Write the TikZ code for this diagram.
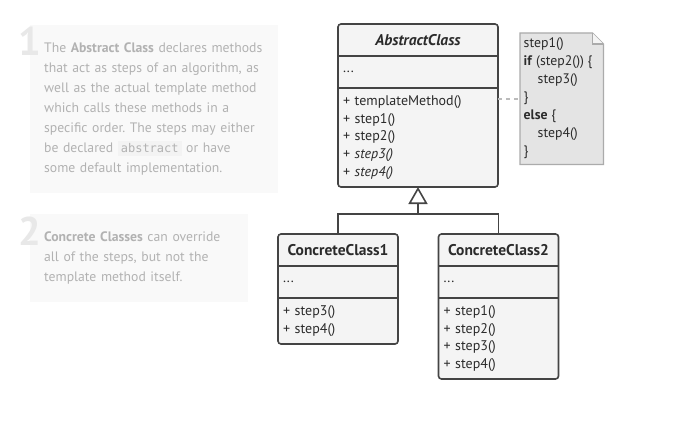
\documentclass[tikz,border=0pt]{standalone}
\usepackage{fontspec}
\setmainfont{PT Sans}
\setmonofont{DejaVu Sans Mono}
\usepackage{xcolor}
\usetikzlibrary{positioning,arrows.meta}
\frenchspacing

\definecolor{linedark}{HTML}{444444}
\definecolor{textdark}{HTML}{2B2B2B}
\definecolor{boxfill}{HTML}{F4F4F4}
\definecolor{notefill}{HTML}{E4E4E4}
\definecolor{noteline}{HTML}{ABABAB}
\definecolor{linkgray}{HTML}{BBBBBB}
\definecolor{panelfill}{HTML}{F9F9F9}
\definecolor{paneltext}{HTML}{B2B2B2}
\definecolor{numgray}{HTML}{E8E8E8}
\definecolor{codefill}{HTML}{F3F3F3}

\tikzset{
  namepart/.style={fill=boxfill, minimum width=#1, minimum height=32pt, inner sep=0pt, outer sep=0pt,
    font=\fontsize{15.5}{18}\selectfont\bfseries, text=textdark},
  listpart/.style={fill=boxfill, text width=#1, inner xsep=5pt, inner ysep=0pt, outer sep=0pt,
    minimum height=32pt, align=left, font=\fontsize{14}{17.8}\selectfont, text=textdark},
  classframe/.style={draw=linedark, line width=1.6pt, rounded corners=3pt},
  divider/.style={draw=linedark, line width=1.6pt},
  generalize/.style={draw=linedark, line width=1.6pt},
  notelink/.style={draw=linkgray, line width=1.4pt, dash pattern=on 4pt off 4pt},
  notebox/.style={fill=notefill, draw=noteline, line width=1.2pt, line join=miter},
  panel/.style={fill=panelfill, anchor=north west, inner xsep=14pt, inner ysep=0pt, align=left,
    font=\fontsize{13.7}{20}\selectfont, text=paneltext},
  bignum/.style={font=\fontsize{40}{40}\selectfont\bfseries, text=numgray, inner sep=0pt},
}
\newcommand{\codeword}[1]{\colorbox{codefill}{\fontsize{12}{12}\selectfont\ttfamily #1}}

\begin{document}
\begin{tikzpicture}[x=1pt, y=-1pt]
  \useasboundingbox[fill=white] (0,0) rectangle (698,428);

  % Explanation panels
  \node[panel, text width=220pt, minimum height=168pt] (panel1) at (30,25)
    {The \textbf{Abstract Class} declares methods\\
     that act as steps of an algorithm, as\\
     well as the actual template method\\
     which calls these methods in a\\
     specific order. The steps may either\\
     be declared \codeword{abstract} or have\\
     some default implementation.};
  \node[bignum] (num1) at (30,41) {1};

  \node[panel, text width=190pt, minimum height=88pt] (panel2) at (30,214)
    {\textbf{Concrete Classes} can override\\
     all of the steps, but not the\\
     template method itself.};
  \node[bignum] (num2) at (30,231) {2};

  % AbstractClass
  \node[namepart=160pt, anchor=north, font=\fontsize{15.5}{18}\selectfont\bfseries\itshape] (ab-name) at (418,24) {AbstractClass};
  \node[listpart=150pt, below=0pt of ab-name] (ab-attr) {...};
  \node[listpart=150pt, below=0pt of ab-attr, minimum height=99pt] (ab-ops)
    {+ templateMethod()\\ + step1()\\ + step2()\\ + \textit{step3()}\\ + \textit{step4()}};
  \draw[classframe] (ab-name.north west) rectangle (ab-ops.south east);
  \draw[divider] (ab-name.south west) -- (ab-name.south east);
  \draw[divider] (ab-attr.south west) -- (ab-attr.south east);

  % ConcreteClass1
  \node[namepart=120pt, anchor=north] (cc1-name) at (338,234) {ConcreteClass1};
  \node[listpart=110pt, below=0pt of cc1-name] (cc1-attr) {...};
  \node[listpart=110pt, below=0pt of cc1-attr, minimum height=46pt] (cc1-ops)
    {+ step3()\\ + step4()};
  \draw[classframe] (cc1-name.north west) rectangle (cc1-ops.south east);
  \draw[divider] (cc1-name.south west) -- (cc1-name.south east);
  \draw[divider] (cc1-attr.south west) -- (cc1-attr.south east);

  % ConcreteClass2
  \node[namepart=120pt, anchor=north] (cc2-name) at (498.5,234) {ConcreteClass2};
  \node[listpart=110pt, below=0pt of cc2-name] (cc2-attr) {...};
  \node[listpart=110pt, below=0pt of cc2-attr, minimum height=81pt] (cc2-ops)
    {+ step1()\\ + step2()\\ + step3()\\ + step4()};
  \draw[classframe] (cc2-name.north west) rectangle (cc2-ops.south east);
  \draw[divider] (cc2-name.south west) -- (cc2-name.south east);
  \draw[divider] (cc2-attr.south west) -- (cc2-attr.south east);

  % Inheritance
  \coordinate (join) at (418,214);
  \draw[generalize] (cc1-name.north) |- (join) -| (cc2-name.north);
  \draw[generalize, -{Triangle[open, length=17pt, width=19pt, line width=1.6pt]}] (join) -- (ab-ops.south);

  % Note on templateMethod
  \node[anchor=north west, minimum width=83pt, minimum height=131pt, inner sep=0pt] (note) at (520,33) {};
  \draw[notebox] (note.north west) -- ([xshift=-11pt]note.north east) -- ([yshift=-11pt]note.north east)
    -- (note.south east) -- (note.south west) -- cycle;
  \draw[notebox, fill=boxfill] ([xshift=-11pt]note.north east) -- ([xshift=-11pt, yshift=-11pt]note.north east)
    -- ([yshift=-11pt]note.north east);
  \node[anchor=north west, inner sep=0pt, align=left, font=\fontsize{13.8}{18}\selectfont, text=textdark] (note-text) at (523.5,37.5)
    {step1()\\
     \textbf{if} (step2()) \{\\
     \hspace*{14pt}step3()\\
     \}\\
     \textbf{else} \{\\
     \hspace*{14pt}step4()\\
     \}};
  \coordinate (link-start) at (ab-ops.east |- 0,99);
  \draw[notelink] (link-start) -- (note.west |- link-start);
\end{tikzpicture}
\end{document}
